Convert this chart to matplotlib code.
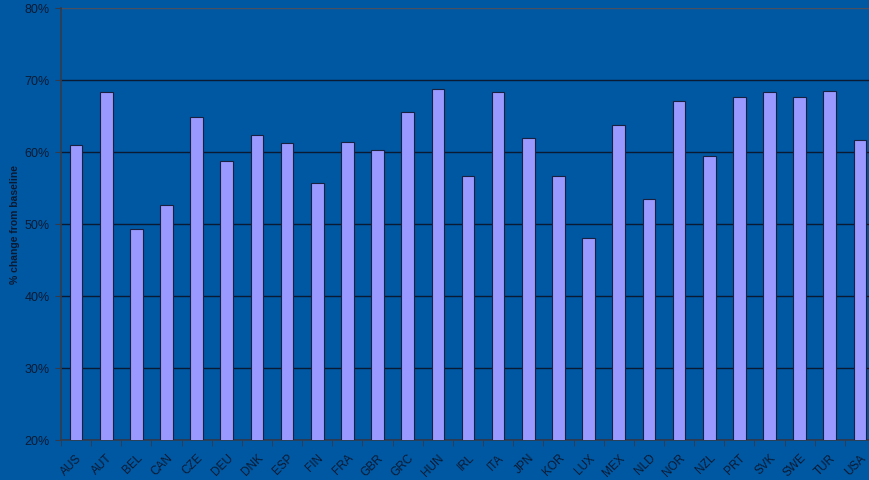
import matplotlib.pyplot as plt
import numpy as np

countries = ['AUS', 'AUT', 'BEL', 'CAN', 'CZE', 'DEU', 'DNK', 'ESP', 'FIN', 'FRA',
             'GBR', 'GRC', 'HUN', 'IRL', 'ITA', 'JPN', 'KOR', 'LUX', 'MEX', 'NLD',
             'NOR', 'NZL', 'PRT', 'SVK', 'SWE', 'TUR', 'USA']
change = [61.0, 68.4, 49.3, 52.6, 64.9, 58.8, 62.3, 61.2, 55.7, 61.4,
          60.3, 65.6, 68.8, 56.7, 68.4, 62.0, 56.7, 48.1, 63.8, 53.5,
          67.1, 59.5, 67.7, 68.4, 67.7, 68.5, 61.7]
yticks = [20, 30, 40, 50, 60, 70, 80]

bg = '#0058a2'
fig = plt.figure(figsize=(8.7, 4.81), dpi=100, facecolor=bg)
ax = fig.add_axes([61/870, 40/481, 814/870, 432/481], facecolor=bg)

x = np.arange(len(countries))
ax.bar(x, change, width=0.42, color='#9999ff', edgecolor='#1a2040',
       linewidth=0.8, zorder=3)

ax.set_ylim(20, 80)
ax.set_xlim(-0.5, len(countries) - 0.5)
ax.set_yticks(yticks)
ax.set_yticklabels([f'{v}%' for v in yticks], fontsize=9, color='#0a1a33',
                   family='Liberation Sans')
ax.yaxis.grid(True, color='#0a1a33', linewidth=1.0, zorder=0)
ax.set_axisbelow(True)
ax.get_ygridlines()[-1].set_color('#4a5060')

ax.set_xticks(x)
ax.set_xticklabels(countries, rotation=45, ha='right', rotation_mode='anchor',
                   fontsize=8.5, color='#0a1a33', family='Liberation Sans')
ax.set_xticks(np.arange(len(countries) + 1) - 0.5, minor=True)
ax.tick_params(axis='x', which='major', length=0, pad=8)
ax.tick_params(axis='x', which='minor', length=4, color='#333a4a', direction='out')
ax.tick_params(axis='y', length=4, color='#333a4a', direction='out', pad=4)

for s in ['top', 'right']:
    ax.spines[s].set_visible(False)
for s in ['left', 'bottom']:
    ax.spines[s].set_color('#333a4a')
    ax.spines[s].set_linewidth(1.2)

ax.set_ylabel('% change from baseline', fontsize=7.5, fontweight='bold',
              color='#0a1a33', family='Liberation Sans', labelpad=3)

fig.savefig('out.png', dpi=100, facecolor=bg)
